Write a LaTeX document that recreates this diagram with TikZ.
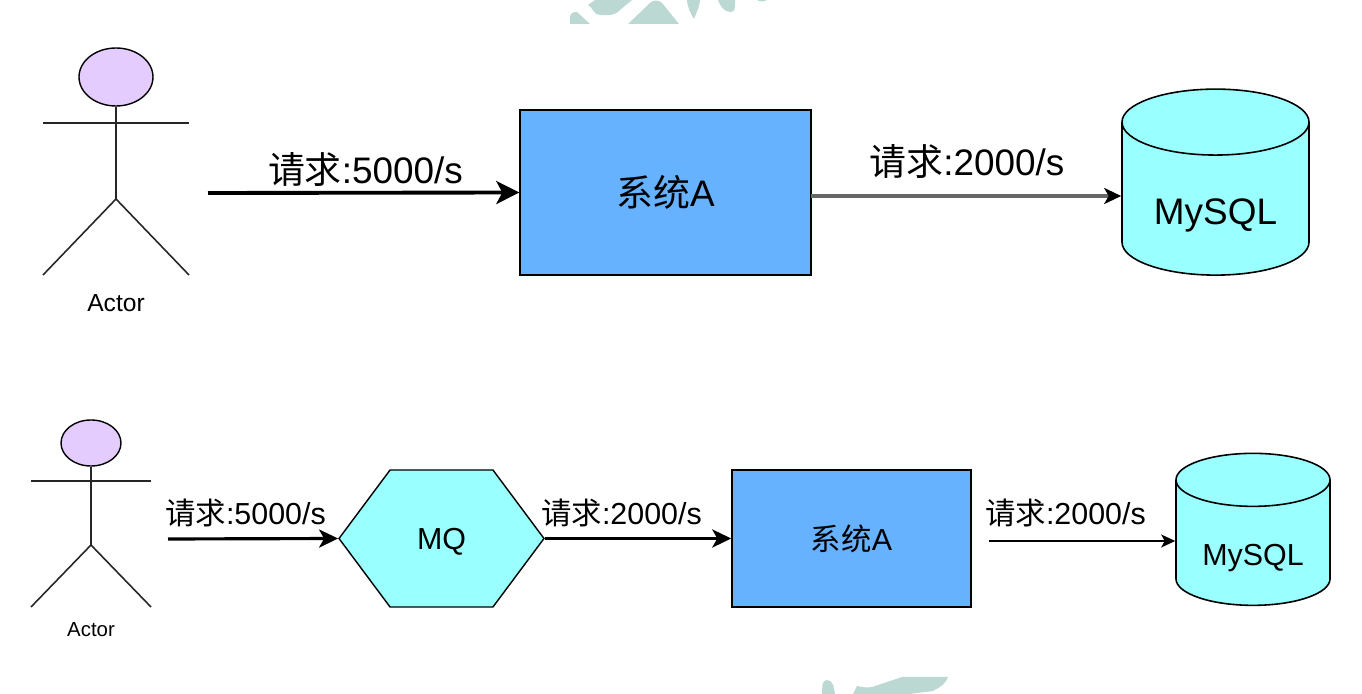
\documentclass[tikz,border=0pt]{standalone}
\usepackage{fontspec}
\setmainfont{Liberation Sans}
\newfontfamily\cjk{Noto Sans CJK SC}
\usetikzlibrary{arrows.meta,shapes.geometric,shapes.symbols}
\definecolor{boxblue}{HTML}{66B2FF}
\definecolor{boxcyan}{HTML}{99FFFF}
\definecolor{headlilac}{HTML}{E5CCFF}
\definecolor{markgreen}{HTML}{BBD8D2}
\newcommand{\qiu}{{\cjk 请求}}
\newcommand{\xta}{{\cjk 系统}A}
\tikzset{
	bigtext/.style={font=\fontsize{21}{25}\selectfont},
	smalltext/.style={font=\fontsize{17.3}{21}\selectfont},
	sysbox/.style={draw=black, line width=0.8pt, fill=boxblue, inner sep=0pt},
	hexbox/.style={draw=black, line width=0.8pt, fill=boxcyan, signal, signal to=west and east, signal from=nowhere, signal pointer angle=106.6, minimum width=4.1cm, minimum height=2.74cm, inner sep=0pt},
	dbbox/.style={draw=black, line width=0.9pt, fill=boxcyan, cylinder, shape border rotate=90, inner sep=0pt},
	head/.style={draw=black, line width=0.8pt, fill=headlilac, ellipse, inner sep=0pt},
	limb/.style={line width=0.9pt, color=black!85},
	fatflow/.style={line width=2.2pt, -{Stealth[length=0.46cm,width=0.46cm,inset=0.12cm]}},
	midflow/.style={line width=1.8pt, -{Stealth[length=0.38cm,width=0.36cm,inset=0.1cm]}},
	thinflow/.style={line width=0.8pt, -{Stealth[length=0.28cm,width=0.26cm,inset=0.07cm]}},
	greyflow/.style={line width=2pt, color=black!60, -{Stealth[length=0.34cm,width=0.32cm,inset=0.09cm,color=black]}},
}
\begin{document}
\begin{tikzpicture}
	\useasboundingbox (0, 0) rectangle (27.24, 13.88);

	% watermark, cut off at the top
	\fill[markgreen] (11.4, 13.4) -- (11.4, 13.54) to[out=90, in=170] (11.54, 13.64) -- (11.8, 13.4) -- cycle;
	\fill[markgreen] (11.9, 13.88) -- (11.76, 13.78) to[out=-30, in=180] (12.0, 13.58) to[out=0, in=-130] (12.4, 13.68) -- (12.64, 13.88) -- cycle;
	\fill[markgreen] (12.56, 13.4) -- (13.0, 13.82) to[out=45, in=135] (13.24, 13.82) -- (13.58, 13.4) -- cycle;
	\fill[markgreen] (13.74, 13.88) to[out=-85, in=120] (13.88, 13.5) to[out=70, in=-95] (14, 13.88) -- cycle;
	\fill[markgreen] (14.36, 13.88) to[out=-70, in=180] (14.62, 13.64) to[out=0, in=-90] (14.7, 13.88) -- cycle;
	\fill[markgreen] (15.14, 13.88) to[out=-30, in=-150] (15.34, 13.88) -- cycle;
	% watermark, cut off at the bottom
	\fill[markgreen] (16.44, 0) to[out=85, in=180] (16.54, 0.28) to[out=0, in=100] (16.7, 0) -- cycle;
	\fill[markgreen] (17.06, 0) -- (17.14, 0.16) to[out=-10, in=190] (17.44, 0.14) -- (18.04, 0.34) -- (18.96, 0.34) to[out=-110, in=30] (18.66, 0.06) -- (18.26, 0.01) -- (18.2, 0) -- cycle;

	% top row
	\node[head, minimum width=1.48cm, minimum height=1.16cm] (headtop) at (2.32, 12.34) {};
	\coordinate (hiptop) at (2.32, 9.9);
	\coordinate (armltop) at (0.86, 11.42);
	\coordinate (armrtop) at (3.78, 11.42);
	\coordinate (footltop) at (0.86, 8.38);
	\coordinate (footrtop) at (3.78, 8.38);
	\draw[limb] (headtop) -- (hiptop);
	\draw[limb] (armltop) -- (armrtop);
	\draw[limb] (footltop) -- (hiptop) -- (footrtop);
	\node[font=\fontsize{14}{17}\selectfont] (actortop) at (2.32, 7.82) {Actor};

	\node[sysbox, bigtext, minimum width=5.82cm, minimum height=3.3cm] (systop) at (13.31, 10.03) {\raisebox{-0.29cm}[0pt][0pt]{\xta}};
	\node[dbbox, bigtext, minimum width=3.74cm, minimum height=3.72cm, aspect=0.536] (dbtop) at (24.31, 9.9) {\raisebox{-0.52cm}[0pt][0pt]{MySQL}};

	\coordinate (starttop) at (4.16, 10.02);
	\coordinate (levelgrey) at (16.22, 9.96);
	\draw[fatflow] (starttop) -- (systop.west);
	\draw[greyflow] (levelgrey) -- (dbtop.west |- levelgrey);

	\node[bigtext, anchor=base] (reqtopa) at (7.31, 10.2) {\qiu:5000/s};
	\node[bigtext, anchor=base] (reqtopb) at (19.34, 10.36) {\qiu:2000/s};

	% bottom row
	\node[head, minimum width=1.2cm, minimum height=0.92cm] (headbot) at (1.82, 5.02) {};
	\coordinate (hipbot) at (1.82, 2.98);
	\coordinate (armlbot) at (0.62, 4.26);
	\coordinate (armrbot) at (3.02, 4.26);
	\coordinate (footlbot) at (0.62, 1.74);
	\coordinate (footrbot) at (3.02, 1.74);
	\draw[limb] (headbot) -- (hipbot);
	\draw[limb] (armlbot) -- (armrbot);
	\draw[limb] (footlbot) -- (hipbot) -- (footrbot);
	\node[font=\fontsize{11.6}{14}\selectfont] (actorbot) at (1.82, 1.28) {Actor};

	\node[hexbox, smalltext] (mq) at (8.83, 3.11) {\raisebox{-0.23cm}[0pt][0pt]{MQ}};
	\node[sysbox, smalltext, minimum width=4.78cm, minimum height=2.74cm] (sysbot) at (17.03, 3.11) {\xta};
	\node[dbbox, smalltext, minimum width=3.08cm, minimum height=3.04cm, aspect=0.523] (dbbot) at (25.06, 3.02) {\raisebox{-0.46cm}[0pt][0pt]{MySQL}};

	\coordinate (startbot) at (3.36, 3.1);
	\coordinate (startlast) at (19.78, 3.06);
	\draw[midflow] (startbot) -- (mq.west);
	\draw[midflow] (mq.east) -- (sysbot.west);
	\draw[thinflow] (startlast) -- (dbbot.west |- startlast);

	\node[smalltext, anchor=base] (reqbota) at (4.91, 3.38) {\qiu:5000/s};
	\node[smalltext, anchor=base] (reqbotb) at (12.43, 3.38) {\qiu:2000/s};
	\node[smalltext, anchor=base] (reqbotc) at (21.31, 3.38) {\qiu:2000/s};
\end{tikzpicture}
\end{document}
